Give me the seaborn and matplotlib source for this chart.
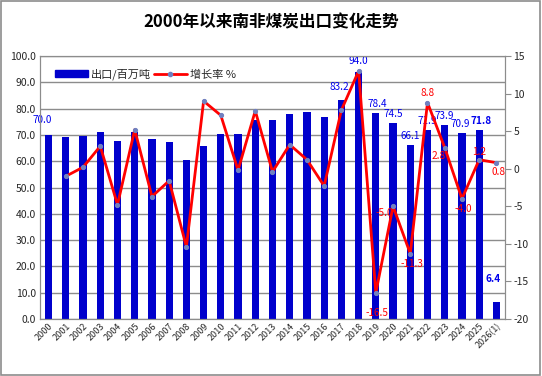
import numpy as np
import pandas as pd
import matplotlib
matplotlib.use("Agg")
import matplotlib.pyplot as plt
import seaborn as sns
from matplotlib.patches import Patch, Rectangle
from matplotlib.lines import Line2D

# 数据
years = [str(y) for y in range(2000, 2026)] + ["2026(1)"]
exports = [70.0, 69.3, 69.4, 71.1, 67.8, 71.1, 68.6, 67.4, 60.6, 65.8,
           70.3, 70.5, 75.7, 75.8, 77.9, 78.7, 76.8, 83.2, 94.0, 78.4,
           74.5, 66.1, 71.9, 73.9, 70.9, 71.8, 6.4]
growth = [np.nan, -1.0, 0.2, 3.0, -4.8, 5.2, -3.7, -1.6, -10.4, 9.0,
          7.1, -0.2, 7.7, -0.4, 3.2, 1.2, -2.3, 7.8, 13.0, -16.5,
          -5.0, -11.3, 8.8, 2.8, -4.0, 1.2, 0.8]
export_labeled = [0, 17, 18, 19, 20, 21, 22, 23, 24, 25, 26]
growth_labeled = [19, 20, 21, 22, 23, 24, 25, 26]

df = pd.DataFrame({"year": years, "exports": exports, "growth": growth})
df["pos"] = np.arange(len(df))

sns.set_style("white")
plt.rcParams['font.family'] = ['Noto Sans CJK SC', 'DejaVu Sans']
plt.rcParams['axes.unicode_minus'] = False

fig = plt.figure(figsize=(5.42, 3.76), dpi=100)
ax = fig.add_axes([40 / 542, 1 - 319 / 376, 465 / 542, 263 / 376])

sns.barplot(data=df, x="year", y="exports", color="#0000CC", saturation=1,
            width=0.42, linewidth=0, ax=ax, zorder=2)
ax.set_ylim(0, 100)
ax.set_yticks(np.arange(0, 101, 10))
ax.set_yticklabels([f"{v:.1f}" for v in np.arange(0, 101, 10)], fontsize=7.5)
ax.yaxis.grid(True, color="#8c8c8c", lw=1)
ax.set_axisbelow(True)
ax.set_xlabel("")
ax.set_ylabel("")
ax.tick_params(axis="x", labelsize=6.5, length=0, pad=2)
ax.tick_params(axis="y", length=0, pad=3)
plt.setp(ax.get_xticklabels(), rotation=45, ha="right", rotation_mode="anchor")
for s in ax.spines.values():
    s.set_color("#8c8c8c")

ax2 = ax.twinx()
sns.lineplot(data=df, x="pos", y="growth", ax=ax2, color="red", lw=2,
             marker="o", markersize=3, markerfacecolor="#7080c0",
             markeredgecolor="#7080c0", zorder=3)
ax2.set_ylim(-20, 15)
ax2.set_yticks(np.arange(-20, 16, 5))
ax2.set_yticklabels([str(v) for v in np.arange(-20, 16, 5)], fontsize=7.5)
ax2.tick_params(axis="y", length=4, color="#8c8c8c", pad=2)
ax2.set_ylabel("")
ax2.set_xlabel("")
ax.set_xlim(-0.5, len(df) - 0.5)
ax2.set_xlim(-0.5, len(df) - 0.5)
for s in ax2.spines.values():
    s.set_color("#8c8c8c")

# 出口数据标签
bar_off = {0: (-6, 10), 17: (-2, 8), 18: (0, 6), 19: (2, 4), 20: (0, 4),
           21: (0, 4), 22: (0, 4), 23: (0, 4), 24: (-2, 4), 25: (2, 4), 26: (-3, 18)}
for i in export_labeled:
    dx, dy = bar_off[i]
    ax.annotate(f"{exports[i]:.1f}", (i, exports[i]), xytext=(dx, dy),
                textcoords="offset pixels", ha="center", va="bottom",
                color="#0000EE", fontsize=7.2,
                fontweight="bold" if i in (25, 26) else "normal", zorder=5)

# 增长率数据标签
gr_off = {19: (1, -20), 20: (-9, -7), 21: (2, -10), 22: (0, 10), 23: (-6, -8),
          24: (1, -10), 25: (0, 8), 26: (2, -9)}
for i in growth_labeled:
    dx, dy = gr_off[i]
    ax2.annotate(f"{growth[i]:.1f}", (i, growth[i]), xytext=(dx, dy),
                 textcoords="offset pixels", ha="center", va="center",
                 color="red", fontsize=7.2, zorder=5)

handles = [Patch(color="#0000CC"),
           Line2D([], [], color="red", lw=2, marker="o", markersize=3,
                  markerfacecolor="#7080c0", markeredgecolor="#7080c0")]
ax2.legend(handles, ["出口/百万吨", "增长率 %"], loc="upper left",
           bbox_to_anchor=(0.01, 0.99), ncol=2, frameon=False, fontsize=8,
           handlelength=3.0, handletextpad=0.3, columnspacing=0.2,
           handleheight=0.6)

fig.text(0.5, 1 - 22 / 376, "2000年以来南非煤炭出口变化走势", ha="center",
         va="center", fontsize=12, fontweight="bold", color="black")
fig.add_artist(Rectangle((0.002, 0.003), 0.995, 0.994, transform=fig.transFigure,
                         fill=False, ec="#8c8c8c", lw=1.2))

fig.savefig("out.png", dpi=100)
